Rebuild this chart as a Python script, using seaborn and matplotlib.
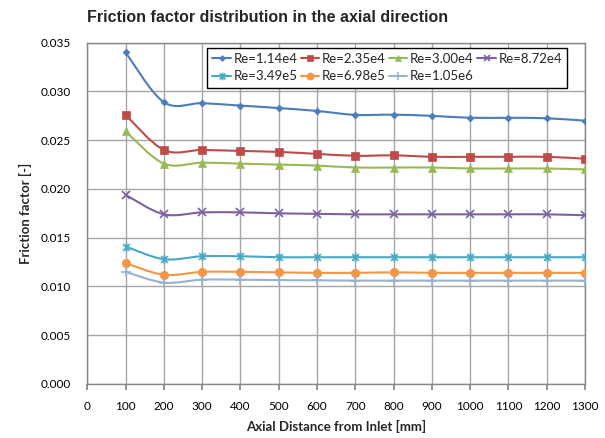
import numpy as np
import pandas as pd
import matplotlib
matplotlib.use("Agg")
import matplotlib.pyplot as plt
from matplotlib.path import Path
from matplotlib.patches import PathPatch
from matplotlib.lines import Line2D
import seaborn as sns

# ---- data ----
distance = [100, 200, 300, 400, 500, 600, 700, 800, 900, 1000, 1100, 1200, 1300]
re_labels = ["Re=1.14e4", "Re=2.35e4", "Re=3.00e4", "Re=8.72e4",
             "Re=3.49e5", "Re=6.98e5", "Re=1.05e6"]
f_re114e4 = [0.0340, 0.0289, 0.0288, 0.02855, 0.0283, 0.0280, 0.0276, 0.02762,
             0.0275, 0.0273, 0.0273, 0.02725, 0.0270]
f_re235e4 = [0.0276, 0.0240, 0.0240, 0.0239, 0.0238, 0.0236, 0.0234, 0.02345,
             0.0233, 0.0233, 0.0233, 0.0233, 0.0231]
f_re300e4 = [0.0259, 0.0226, 0.0227, 0.0226, 0.0225, 0.0224, 0.0222, 0.0222,
             0.0222, 0.0221, 0.0221, 0.0221, 0.0220]
f_re872e4 = [0.0194, 0.0174, 0.0176, 0.0176, 0.0175, 0.01745, 0.0174, 0.0174,
             0.0174, 0.0174, 0.0174, 0.0174, 0.0173]
f_re349e5 = [0.0141, 0.0128, 0.0131, 0.0131, 0.0130, 0.0130, 0.0130, 0.0130,
             0.0130, 0.0130, 0.0130, 0.0130, 0.0130]
f_re698e5 = [0.0124, 0.0112, 0.0115, 0.0115, 0.01145, 0.0114, 0.0114, 0.01145,
             0.0114, 0.0114, 0.0114, 0.0114, 0.0114]
f_re105e6 = [0.0115, 0.0104, 0.0107, 0.0107, 0.01065, 0.01063, 0.0106, 0.0106,
             0.0106, 0.0106, 0.0106, 0.0106, 0.0106]
series = [f_re114e4, f_re235e4, f_re300e4, f_re872e4, f_re349e5, f_re698e5, f_re105e6]
x_ticks = list(range(0, 1301, 100))
y_ticks = [0.000, 0.005, 0.010, 0.015, 0.020, 0.025, 0.030, 0.035]

# ---- styles ----
star_marker = Path([(0, -1), (0, 1), (-0.75, -0.75), (0.75, 0.75),
                    (-0.75, 0.75), (0.75, -0.75)],
                   [Path.MOVETO, Path.LINETO, Path.MOVETO, Path.LINETO,
                    Path.MOVETO, Path.LINETO])
colors = ["#4A7EBB", "#BE4B48", "#98B954", "#7D60A0", "#46AAC5", "#F69544", "#95B3D7"]
markers = ["D", "s", "^", "x", star_marker, "o", "+"]
msizes = [3.5, 5.5, 5.5, 5.5, 6.5, 6, 6.5]
line_markers = {"x", "+"}

sns.set_theme(style="white")
plt.rcParams['font.family'] = ['Lato', 'DejaVu Sans']

fig = plt.figure(figsize=(6.05, 4.38), dpi=100)
ax_h = 0.9025 - 0.1233
ax = fig.add_axes([0.1443, 0.1233, 0.967 - 0.1443, ax_h])

df = pd.DataFrame({"x": distance * len(series),
                   "f": np.concatenate(series),
                   "Re": np.repeat(re_labels, len(distance))})


def smooth_path(xs, ys):
    pts = np.column_stack([xs, ys]).astype(float)
    n = len(pts)
    verts = [pts[0]]
    codes = [Path.MOVETO]
    for i in range(n - 1):
        p0 = pts[i - 1] if i > 0 else pts[i]
        p1 = pts[i]
        p2 = pts[i + 1]
        p3 = pts[i + 2] if i + 2 < n else pts[i + 1]
        c1 = p1 + (p2 - p0) / 6.0
        c2 = p2 - (p3 - p1) / 6.0
        verts += [c1, c2, p2]
        codes += [Path.CURVE4] * 3
    return Path(verts, codes)


handles = []
for lab, col, mk, ms in zip(re_labels, colors, markers, msizes):
    sub = df[df["Re"] == lab]
    patch = PathPatch(smooth_path(sub["x"].values, sub["f"].values),
                      facecolor="none", edgecolor=col, lw=1.5, zorder=3,
                      capstyle="round", joinstyle="round")
    ax.add_patch(patch)
    is_line = isinstance(mk, Path) or mk in line_markers
    lw_m = 1.2 if is_line else 0.5
    sns.lineplot(data=sub, x="x", y="f", ax=ax, color=col, marker=mk,
                 markersize=ms, markeredgecolor=col, markeredgewidth=lw_m,
                 linestyle="", zorder=4, legend=False)
    handles.append(Line2D([], [], color=col, lw=1.5, marker=mk,
                          markersize=ms * 0.85, markeredgecolor=col,
                          markeredgewidth=lw_m, label=lab))

ax.set_xlim(0, 1300)
ax.set_ylim(0, 0.035)
ax.set_xticks(x_ticks)
ax.set_yticks(y_ticks)
ax.set_xticklabels([str(v) for v in x_ticks], fontsize=8.5)
ax.set_yticklabels([f"{v:.3f}" for v in y_ticks], fontsize=8.5)
ax.grid(True, color="#A6A6A6", lw=1.0)
ax.set_axisbelow(True)
for s in ax.spines.values():
    s.set_color("#868686")
    s.set_linewidth(1.0)
ax.tick_params(axis="x", which="both", direction="out", length=4,
               color="#868686", pad=8, labelcolor="black")
ax.tick_params(axis="y", length=0, pad=12, labelcolor="black")
ax.tick_params(bottom=True)

ax.set_xlabel("Axial Distance from Inlet [mm]", fontsize=9.5,
              fontweight="bold", labelpad=6)
ax.set_ylabel("Friction factor [-]", fontsize=9.5, fontweight="bold",
              labelpad=6)

fig.text(268 / 605, 1 - 17 / 438, "Friction factor distribution in the axial direction",
         ha="center", va="center", fontsize=11.5, fontweight="bold",
         family=["Liberation Sans", "DejaVu Sans"])

# row-major order for a 4-column legend
order = [0, 4, 1, 5, 2, 6, 3]
leg = ax.legend(handles=[handles[i] for i in order], ncol=4, loc="upper left",
                bbox_to_anchor=((207 - 87.3) / (585 - 87.3), 1.0 - 5 / 341.3),
                fontsize=9.5, frameon=True, fancybox=False, borderpad=0.4,
                handlelength=1.4, handletextpad=0.2, columnspacing=0.25,
                labelspacing=0.4, borderaxespad=0.0)
leg.get_frame().set_edgecolor("black")
leg.get_frame().set_linewidth(1.0)
leg.get_frame().set_facecolor("white")
leg.get_frame().set_alpha(1.0)

fig.savefig("out.png", dpi=100)
